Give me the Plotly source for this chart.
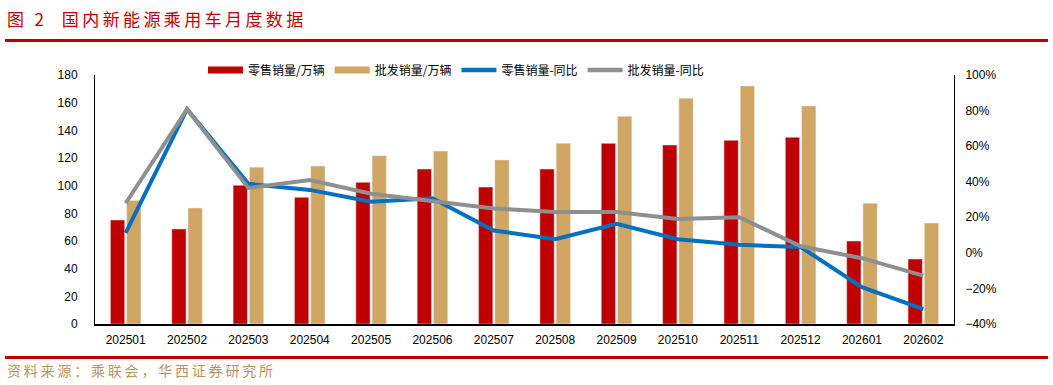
import plotly.graph_objects as go

months = ["202501", "202502", "202503", "202504", "202505", "202506", "202507",
          "202508", "202509", "202510", "202511", "202512", "202601", "202602"]
retail = [75.2, 68.7, 100.3, 91.6, 102.4, 112.0, 99.0, 112.0, 130.6, 129.4, 132.8, 135.0, 60.0, 47.0]
wholesale = [89.2, 83.9, 113.3, 114.2, 121.7, 125.0, 118.6, 130.6, 150.2, 163.2, 172.0, 157.6, 87.3, 73.0]
retail_yoy = [0.112, 0.808, 0.388, 0.354, 0.288, 0.307, 0.126, 0.077, 0.163, 0.077, 0.045, 0.033, -0.193, -0.317]
wholesale_yoy = [0.279, 0.808, 0.365, 0.41, 0.332, 0.288, 0.249, 0.23, 0.23, 0.19, 0.20, 0.037, -0.03, -0.128]

names = ["零售销量/万辆", "批发销量/万辆", "零售销量-同比", "批发销量-同比"]
title_text = "图 2  国内新能源乘用车月度数据"
source_text = "资料来源：乘联会，华西证券研究所"
RED, TAN, BLUE, GRAY = "#C00000", "#D0A664", "#0070C0", "#8F8F8F"

def spaced(s, sp="\u2009"):
    return sp.join(list(s))

fig = go.Figure()
fig.add_trace(go.Bar(x=months, y=retail, name=names[0], marker_color=RED, showlegend=False))
fig.add_trace(go.Bar(x=months, y=wholesale, name=names[1], marker_color=TAN, showlegend=False))
fig.add_trace(go.Scatter(x=months, y=retail_yoy, name=names[2], mode="lines",
                         line=dict(color=BLUE, width=4), yaxis="y2", showlegend=False))
fig.add_trace(go.Scatter(x=months, y=wholesale_yoy, name=names[3], mode="lines",
                         line=dict(color=GRAY, width=4), yaxis="y2", showlegend=False))
# legend-only entries
for nm, col, w in zip(names, [RED, TAN, BLUE, GRAY], [7, 7, 4.5, 4.5]):
    fig.add_trace(go.Scatter(x=[None], y=[None], name=nm, mode="lines",
                             line=dict(color=col, width=w), yaxis="y2"))

H_TOP, H_BOT = 75, 61
ph = 385 - H_TOP - H_BOT
def py(p):
    return (385 - H_BOT - p) / ph

fig.update_layout(
    width=1053, height=385,
    margin=dict(l=95, r=99, t=H_TOP, b=H_BOT),
    paper_bgcolor="white", plot_bgcolor="white",
    barmode="group", bargap=0.47, bargroupgap=0.12,
    font=dict(family="Liberation Sans, Arial, sans-serif", size=12, color="#000"),
    xaxis=dict(type="category", showline=True, linecolor="#000", linewidth=1.5,
               ticks="", showgrid=False, tickfont=dict(size=12), ticklabelstandoff=4),
    yaxis=dict(range=[0, 180], dtick=20, showline=True, linecolor="#000", linewidth=1,
               showgrid=False, zeroline=False, ticks="", tickfont=dict(size=12),
               ticklabelstandoff=14),
    yaxis2=dict(range=[-0.4, 1.0], dtick=0.2, tickformat=".0%", overlaying="y", side="right",
                showline=True, linecolor="#000", linewidth=1, showgrid=False, zeroline=False,
                ticks="", tickfont=dict(size=12), ticklabelstandoff=8),
    legend=dict(orientation="h", x=(456 - 95) / 859, xanchor="center", y=py(70), yanchor="middle",
                font=dict(family="Noto Sans CJK SC", size=12), bgcolor="rgba(0,0,0,0)",
                itemwidth=35),
    shapes=[
        dict(type="line", xref="paper", yref="paper", x0=-90/859, x1=(1048-95)/859,
             y0=py(40.5), y1=py(40.5), line=dict(color=RED, width=3)),
        dict(type="line", xref="paper", yref="paper", x0=-90/859, x1=(1048-95)/859,
             y0=py(357.5), y1=py(357.5), line=dict(color=RED, width=3)),
    ],
    annotations=[
        dict(text=spaced(title_text), xref="paper", yref="paper",
             x=-90/859, y=py(18), xanchor="left", yanchor="middle", showarrow=False,
             font=dict(family="Noto Sans CJK SC", size=17, color=RED)),
        dict(text=spaced(source_text), xref="paper", yref="paper",
             x=-90/859, y=py(370), xanchor="left", yanchor="middle", showarrow=False,
             font=dict(family="Noto Sans CJK SC", size=14, color="#B8935A")),
    ],
)

fig.write_html("out.html", config={"displayModeBar": False},
               post_script="document.body.style.margin='0';document.body.style.padding='0';")
